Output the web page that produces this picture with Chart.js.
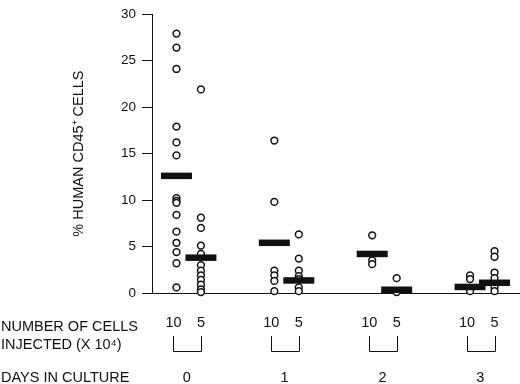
<!DOCTYPE html>
<html>
<head>
<meta charset="utf-8">
<script src="https://cdn.jsdelivr.net/npm/chart.js@4.4.0/dist/chart.umd.min.js"></script>
<style>
  html,body{margin:0;padding:0;background:#fff;}
  #wrap{width:520px;height:384px;}
</style>
</head>
<body>
<div id="wrap"><canvas id="chart" width="520" height="384"></canvas></div>
<script>
// values (% human CD45+ cells per mouse)
const days = ['0', '1', '2', '3'];
const cellsInjected = ['10', '5'];
const yTicks = [0, 5, 10, 15, 20, 25, 30];

const day0_10 = [27.9, 26.4, 24.1, 17.9, 16.2, 14.8, 10.2, 9.9, 9.7, 8.4, 6.6, 5.4, 4.4, 3.2, 0.6];
const day0_5 = [21.9, 8.1, 7.0, 5.1, 4.2, 3.0, 2.4, 1.9, 1.4, 0.9, 0.4, 0.1];
const day1_10 = [16.4, 9.8, 2.4, 1.9, 1.3, 0.2];
const day1_5 = [6.3, 3.7, 2.4, 1.8, 1.5, 0.6, 0.2];
const day2_10 = [6.2, 3.5, 3.1];
const day2_5 = [1.6, 0.2, 0.1];
const day3_10 = [1.9, 1.5, 0.2];
const day3_5 = [4.5, 3.9, 2.2, 1.6, 0.6, 0.2];
const means = [12.6, 3.8, 5.4, 1.35, 4.2, 0.35, 0.65, 1.1];

const columns = [day0_10, day0_5, day1_10, day1_5, day2_10, day2_5, day3_10, day3_5];
const colPos = i => 1 + 4 * Math.floor(i / 2) + (i % 2);

const pts = [];
columns.forEach((col, i) => col.forEach(v => pts.push({x: colPos(i), y: v})));
const meanPts = means.map((v, i) => ({x: colPos(i), y: v}));

const FONT = '"Liberation Sans", Arial, Helvetica, sans-serif';

const bottomLabels = {
  id: 'bottomLabels',
  afterDraw(chart) {
    const ctx = chart.ctx, xs = chart.scales.x;
    ctx.save();
    ctx.fillStyle = '#111';
    ctx.strokeStyle = '#111';
    ctx.lineWidth = 1;
    ctx.font = '14.5px ' + FONT;
    ctx.textBaseline = 'middle';
    ctx.textAlign = 'left';
    ctx.fillText('NUMBER OF CELLS', 1, 327);
    ctx.fillText('INJECTED (X 10\u2074)', 1, 345);
    ctx.fillText('DAYS IN CULTURE', 1, 378);
    ctx.textAlign = 'center';
    days.forEach((d, g) => {
      const a = xs.getPixelForValue(colPos(2 * g));
      const b = xs.getPixelForValue(colPos(2 * g + 1));
      ctx.fillText(cellsInjected[0], a - 3, 323);
      ctx.fillText(cellsInjected[1], b, 323);
      ctx.beginPath();
      ctx.moveTo(Math.round(a) - 2.5, 336);
      ctx.lineTo(Math.round(a) - 2.5, 351.5);
      ctx.lineTo(Math.round(b) + 0.5, 351.5);
      ctx.lineTo(Math.round(b) + 0.5, 336);
      ctx.stroke();
      ctx.fillText(d, (a + b) / 2 - 2, 378);
    });
    ctx.restore();
  }
};

new Chart(document.getElementById('chart'), {
  type: 'scatter',
  data: {
    datasets: [
      {
        label: 'mean',
        data: meanPts,
        pointStyle: 'line',
        pointRadius: 15.5,
        pointHoverRadius: 15.5,
        borderWidth: 6.5,
        pointBorderWidth: 6.5,
        borderColor: '#111',
        backgroundColor: '#111',
        clip: false
      },
      {
        label: 'mice',
        data: pts,
        pointStyle: 'circle',
        pointRadius: 3.4,
        pointHoverRadius: 3.4,
        pointBorderWidth: 1.5,
        borderColor: '#111',
        backgroundColor: '#fff',
        clip: false
      }
    ]
  },
  plugins: [bottomLabels],
  options: {
    responsive: false,
    animation: false,
    events: [],
    layout: {autoPadding: false, padding: {top: 6, right: 1, bottom: 0, left: 0}},
    plugins: {legend: {display: false}, tooltip: {enabled: false}},
    scales: {
      x: {
        type: 'linear',
        min: 0,
        max: 15,
        ticks: {display: false},
        grid: {display: false},
        border: {display: true, color: '#111', width: 1},
        afterFit: s => { s.height = 91; }
      },
      y: {
        min: 0,
        max: 30,
        afterBuildTicks: s => { s.ticks = yTicks.map(v => ({value: v})); },
        ticks: {color: '#111', font: {size: 13.5, family: FONT}, padding: 6},
        grid: {drawOnChartArea: false, drawTicks: true, tickLength: 10, color: '#111'},
        border: {display: true, color: '#111', width: 1},
        title: {
          display: true,
          text: '% HUMAN CD45\u207A CELLS',
          color: '#111',
          font: {size: 14.5, family: FONT},
          padding: {top: 70, bottom: 0}
        },
        afterFit: s => { s.width = 152; }
      }
    }
  }
});
</script>
</body>
</html>
